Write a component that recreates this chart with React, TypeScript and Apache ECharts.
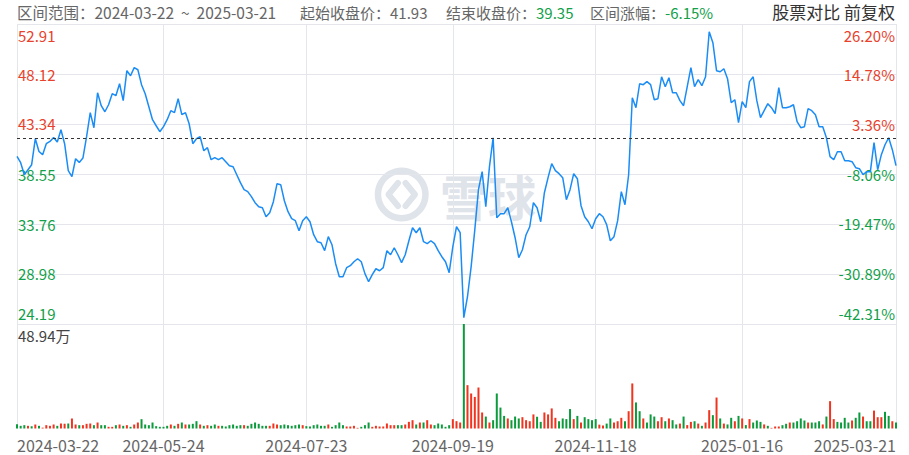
import React, { useEffect, useRef } from 'react';
import * as echarts from 'echarts';

// ---- data ----
const tickIdx = [0, 40, 79, 119, 158, 198, 240];
const dateLabels = ['2024-03-22', '2024-05-24', '2024-07-23', '2024-09-19', '2024-11-18', '2025-01-16', '2025-03-21'];
const priceTicks = [24.19, 28.98, 33.76, 38.55, 43.34, 48.12, 52.91];
const pctTicks = [-42.31, -30.89, -19.47, -8.06, 3.36, 14.78, 26.2];
const basePrice = 41.93;
const endPrice = 39.35;
const rangeChange = '-6.15%';
const volTopLabel = 48.94;

const closes = [
  40.23, 39.63, 38.48, 38.96, 39.44, 41.93, 40.71, 40.40, 41.45, 41.67,
  42.05, 41.61, 42.79, 41.45, 38.87, 38.29, 40.01, 39.66, 40.08, 42.12,
  44.42, 42.98, 46.33, 45.09, 44.51, 45.18, 46.24, 46.05, 47.19, 45.57,
  48.44, 47.96, 48.73, 48.53, 47.10, 46.24, 44.99, 43.75, 43.17, 42.60,
  43.08, 43.75, 44.61, 44.42, 45.76, 44.23, 44.42, 43.36, 41.45, 41.93,
  42.12, 40.78, 41.07, 39.92, 40.11, 39.92, 40.11, 39.73, 39.34, 39.25,
  38.48, 37.72, 37.05, 36.86, 36.38, 35.80, 35.42, 35.32, 34.46, 34.85,
  35.90, 37.62, 37.53, 35.99, 34.94, 34.27, 34.08, 33.12, 34.08, 34.46,
  33.98, 32.74, 32.07, 31.97, 31.21, 32.55, 31.78, 29.96, 28.72, 28.72,
  29.58, 29.77, 30.15, 30.44, 30.15, 29.01, 28.24, 28.91, 29.48, 29.29,
  29.58, 31.21, 30.82, 31.49, 30.82, 30.06, 30.82, 32.16, 33.41, 32.93,
  33.41, 32.07, 31.88, 32.16, 31.88, 31.21, 30.63, 30.15, 29.10, 31.59,
  33.50, 32.93, 24.79, 26.80, 29.68, 33.22, 37.05, 38.77, 35.42, 39.25,
  42.02, 34.37, 34.75, 34.75, 35.32, 33.98, 32.45, 30.54, 31.30, 32.74,
  33.50, 35.80, 35.32, 33.98, 36.76, 38.20, 39.54, 38.87, 38.58, 38.20,
  36.09, 37.05, 38.58, 38.10, 35.52, 34.46, 33.98, 33.31, 34.27, 34.75,
  34.46, 33.70, 32.16, 32.55, 34.08, 36.86, 35.61, 38.48, 45.85, 44.90,
  47.19, 47.10, 47.39, 47.10, 45.66, 45.76, 47.86, 46.91, 47.77, 46.33,
  46.33, 45.57, 45.09, 46.91, 48.73, 46.91, 47.58, 47.00, 47.86, 52.17,
  51.12, 48.44, 48.34, 48.63, 47.67, 45.38, 45.66, 43.46, 45.47, 44.90,
  47.39, 47.86, 45.57, 43.94, 44.61, 45.28, 44.90, 44.32, 46.81, 44.90,
  44.90, 44.99, 45.18, 43.56, 42.98, 43.08, 44.80, 44.61, 44.23, 43.08,
  43.08, 42.02, 40.21, 39.92, 40.68, 40.68, 39.82, 39.82, 39.73, 39.15,
  39.06, 38.48, 38.77, 38.77, 41.55, 38.96, 40.40, 41.35, 42.02, 40.88,
  39.35,
];

// volume in 万 (10k)
const volumes = [
  2.03, 1.25, 1.56, 1.25, 1.09, 1.87, 1.25, 0.4, 1.56, 1.25,
  1.87, 1.25, 2.34, 2.18, 2.34, 4.68, 1.87, 1.56, 1.56, 2.18,
  2.34, 1.56, 2.81, 1.56, 1.56, 0.78, 0.78, 1.56, 1.87, 1.25,
  1.56, 0.78, 1.87, 2.81, 4.37, 1.87, 1.56, 2.81, 1.09, 0.78,
  0.78, 1.25, 1.87, 1.25, 2.18, 2.81, 1.87, 1.87, 2.18, 3.43,
  1.87, 1.25, 1.56, 1.25, 1.87, 1.25, 1.25, 0.94, 1.56, 1.87,
  1.25, 1.56, 1.56, 1.25, 2.18, 2.81, 2.18, 1.25, 1.25, 1.25,
  2.34, 1.87, 1.56, 1.87, 1.56, 1.25, 1.56, 1.87, 1.56, 1.1,
  0.94, 1.56, 1.87, 1.25, 1.25, 1.87, 0.78, 1.56, 2.81, 1.56,
  0.94, 0.94, 1.25, 0.3, 0.78, 1.56, 2.81, 0.78, 1.25, 0.94,
  0.94, 2.34, 1.56, 1.56, 1.56, 1.56, 1.87, 3.12, 3.9, 1.87,
  2.81, 2.81, 3.9, 1.87, 1.56, 2.34, 1.87, 0.78, 1.56, 4.37,
  3.43, 2.81, 48.94, 20.3, 16.4, 14.8, 19.2, 7.5, 5.6, 2.81,
  3.9, 16.4, 9.8, 5.9, 4.7, 3.9, 5.6, 4.7, 5.3, 3.9,
  3.4, 6.6, 5.5, 3.1, 7.5, 6.6, 9.4, 5.0, 3.4, 4.7,
  4.4, 9.1, 4.4, 5.9, 2.8, 5.3, 4.4, 3.9, 4.4, 1.8,
  1.4, 2.3, 4.7, 2.8, 3.4, 5.0, 3.4, 8.1, 21.1, 12.2,
  8.1, 4.7, 2.8, 6.6, 5.6, 3.4, 5.3, 3.4, 4.7, 3.9,
  1.9, 2.3, 5.6, 1.6, 3.1, 3.4, 2.3, 1.25, 2.8, 8.6,
  6.25, 14.5, 4.7, 2.3, 1.9, 5.0, 3.4, 5.9, 4.7, 1.6,
  4.4, 2.8, 3.75, 3.1, 1.9, 1.25, 0.3, 0.94, 0.94, 1.56,
  2.2, 2.8, 2.8, 3.4, 4.7, 3.75, 2.8, 2.8, 2.8, 3.4,
  1.9, 5.6, 12.8, 4.4, 3.1, 2.8, 5.0, 2.8, 3.75, 5.0,
  7.5, 5.6, 3.4, 3.4, 8.4, 5.3, 5.3, 7.8, 5.9, 3.4,
  2.8,
];

// 1 = red (up) bar, 0 = green (down) bar
const volUp = [
  0, 0, 0, 1, 0, 1, 0, 1, 1, 1,
  1, 0, 1, 1, 0, 1, 1, 0, 1, 1,
  1, 0, 1, 0, 0, 1, 1, 0, 1, 0,
  1, 0, 1, 1, 0, 0, 0, 0, 0, 0,
  0, 0, 1, 0, 1, 0, 1, 0, 0, 0,
  1, 0, 1, 0, 0, 1, 0, 0, 0, 0,
  0, 0, 1, 0, 0, 0, 0, 0, 0, 1,
  1, 1, 0, 0, 0, 0, 0, 0, 1, 0,
  0, 0, 0, 0, 0, 1, 0, 0, 0, 0,
  1, 1, 1, 1, 0, 0, 0, 1, 1, 1,
  1, 1, 1, 1, 0, 0, 1, 1, 1, 0,
  1, 0, 1, 1, 0, 0, 0, 0, 0, 1,
  1, 1, 0, 1, 1, 1, 1, 1, 0, 1,
  0, 0, 0, 0, 1, 0, 0, 0, 1, 1,
  1, 1, 0, 0, 1, 1, 1, 1, 0, 0,
  0, 0, 1, 0, 1, 0, 0, 0, 0, 1,
  1, 0, 0, 1, 1, 1, 0, 1, 1, 0,
  0, 1, 0, 0, 0, 1, 1, 0, 1, 0,
  0, 1, 0, 1, 1, 0, 1, 0, 1, 1,
  0, 1, 0, 1, 0, 0, 1, 0, 1, 0,
  1, 0, 0, 0, 1, 0, 1, 1, 1, 0,
  0, 1, 0, 0, 0, 0, 1, 0, 0, 0,
  1, 0, 1, 1, 0, 0, 0, 0, 1, 0,
  0, 1, 0, 0, 1, 1, 1, 0, 0, 1,
  0,
];

const RED = '#e8412c';
const GREEN = '#12a04a';
const VRED = '#f0341f';
const VGREEN = '#0b9a3c';
const LINE = '#1a8cf5';
const GRID = '#e5e6eb';
const WM = '#dfe3ea';
const FONT = '"Noto Sans CJK SC", "Noto Sans", sans-serif';

export default function App() {
  const ref = useRef<HTMLDivElement>(null);

  useEffect(() => {
    if (!ref.current) return;
    const chart = echarts.init(ref.current, undefined, { renderer: 'svg' });
    const cats = closes.map((_, i) => String(i));
    const isTick = (i: number) => tickIdx.indexOf(i) >= 0;
    const pMin = priceTicks[0];
    const pMax = priceTicks[priceTicks.length - 1];
    const qMin = pctTicks[0];
    const qMax = pctTicks[pctTicks.length - 1];

    const edgeRich = {
      t: { padding: [4, 0, 0, 0], color: RED, fontSize: 15, fontFamily: FONT },
      b: { padding: [0, 0, 3, 0], color: GREEN, fontSize: 15, fontFamily: FONT },
    };

    const option: any = {
      animation: false,
      textStyle: { fontFamily: FONT },
      grid: [
        { left: 17, right: 13, top: 24, height: 300 },
        { left: 17, right: 13, top: 324, height: 104.5 },
      ],
      xAxis: [
        {
          type: 'category', gridIndex: 0, data: cats, boundaryGap: false,
          axisLine: { show: false }, axisTick: { show: false }, axisLabel: { show: false },
          splitLine: { show: true, interval: (i: number) => isTick(i), lineStyle: { color: GRID, width: 1 } },
        },
        {
          type: 'category', gridIndex: 1, data: cats, boundaryGap: false,
          axisLine: { show: false }, axisTick: { show: false },
          axisLabel: {
            show: true,
            interval: (i: number) => isTick(i),
            formatter: (v: string) => {
              const k = tickIdx.indexOf(Number(v));
              return k >= 0 ? dateLabels[k] : '';
            },
            alignMinLabel: 'left',
            alignMaxLabel: 'right',
            color: '#666',
            fontSize: 16,
            fontFamily: FONT,
            margin: 8,
          },
          splitLine: { show: true, interval: (i: number) => isTick(i), lineStyle: { color: GRID, width: 1 } },
        },
      ],
      yAxis: [
        {
          type: 'value', gridIndex: 0, position: 'left', min: pMin, max: pMax,
          axisLine: { show: false },
          axisTick: { show: false, customValues: priceTicks },
          axisLabel: {
            inside: true, customValues: priceTicks, margin: 1,
            formatter: (v: number) => {
              const n = Number(v);
              const t = n.toFixed(2);
              if (n === pMax) return '{t|' + t + '}';
              if (n === pMin) return '{b|' + t + '}';
              return t;
            },
            rich: edgeRich,
            color: (v: any) => (Number(v) > basePrice ? RED : GREEN),
            fontSize: 15, fontFamily: FONT,
            verticalAlignMinLabel: 'bottom', verticalAlignMaxLabel: 'top',
          },
          splitLine: { show: true, lineStyle: { color: GRID, width: 1 } },
        },
        {
          type: 'value', gridIndex: 0, position: 'right', min: qMin, max: qMax,
          axisLine: { show: false },
          axisTick: { show: false, customValues: pctTicks },
          axisLabel: {
            inside: true, customValues: pctTicks, margin: 1,
            formatter: (v: number) => {
              const n = Number(v);
              const t = n.toFixed(2) + '%';
              if (n === qMax) return '{t|' + t + '}';
              if (n === qMin) return '{b|' + t + '}';
              return t;
            },
            rich: edgeRich,
            color: (v: any) => (Number(v) > 0 ? RED : GREEN),
            fontSize: 15, fontFamily: FONT,
            verticalAlignMinLabel: 'bottom', verticalAlignMaxLabel: 'top',
          },
          splitLine: { show: false },
        },
        {
          type: 'value', gridIndex: 1, min: 0, max: volTopLabel,
          axisLine: { show: false },
          axisTick: { show: false, customValues: [volTopLabel] },
          axisLabel: {
            inside: true, customValues: [volTopLabel], margin: 1,
            formatter: (v: number) => '{t|' + Number(v).toFixed(2) + '万}',
            rich: { t: { padding: [4, 0, 0, 0], color: '#444', fontSize: 15, fontFamily: FONT } },
            color: '#444', fontSize: 15, fontFamily: FONT,
            verticalAlignMinLabel: 'top', verticalAlignMaxLabel: 'top',
          },
          splitLine: { show: false },
        },
      ],
      graphic: [
        { type: 'ring', shape: { cx: 401.7, cy: 194.5, r: 27, r0: 20.5 }, style: { fill: WM }, z: 0, silent: true },
        { type: 'polyline', shape: { points: [[398, 183], [388.5, 194.5], [398, 206]] }, style: { stroke: WM, lineWidth: 6, fill: null, lineCap: 'round', lineJoin: 'round' }, z: 0, silent: true },
        { type: 'polyline', shape: { points: [[405.5, 183], [415, 194.5], [405.5, 206]] }, style: { stroke: WM, lineWidth: 6, fill: null, lineCap: 'round', lineJoin: 'round' }, z: 0, silent: true },
        { type: 'text', x: 440, y: 195, style: { text: '雪球', fill: WM, font: `bold 48px ${FONT}`, verticalAlign: 'middle' }, z: 0, silent: true },
        {
          type: 'text', x: 17, y: 12,
          style: { text: '区间范围：2024-03-22  ~  2025-03-21', fill: '#666', font: `15.5px ${FONT}`, verticalAlign: 'middle' },
        },
        {
          type: 'text', x: 300, y: 12,
          style: { text: '起始收盘价：' + basePrice.toFixed(2), fill: '#666', font: `15px ${FONT}`, verticalAlign: 'middle' },
        },
        {
          type: 'text', x: 446, y: 12,
          style: {
            text: '结束收盘价：{g|' + endPrice.toFixed(2) + '}', fill: '#666', font: `15px ${FONT}`, verticalAlign: 'middle',
            rich: { g: { fill: GREEN, font: `15px ${FONT}` } },
          },
        },
        {
          type: 'text', x: 590, y: 12,
          style: {
            text: '区间涨幅：{g|' + rangeChange + '}', fill: '#666', font: `15px ${FONT}`, verticalAlign: 'middle',
            rich: { g: { fill: GREEN, font: `15px ${FONT}` } },
          },
        },
        {
          type: 'text', x: 895, y: 11,
          style: { text: '股票对比 前复权', fill: '#333', font: `17px ${FONT}`, align: 'right', verticalAlign: 'middle' },
        },
      ],
      series: [
        {
          type: 'line', xAxisIndex: 0, yAxisIndex: 0, data: closes,
          symbol: 'none', showSymbol: false,
          lineStyle: { color: LINE, width: 1.5 },
          z: 3,
          markLine: {
            symbol: 'none', silent: true, label: { show: false },
            lineStyle: { color: '#333', type: [3, 3], width: 1 },
            data: [{ yAxis: basePrice }],
          },
        },
        {
          type: 'bar', xAxisIndex: 1, yAxisIndex: 2, barWidth: 2,
          data: volumes.map((v, i) => ({ value: v, itemStyle: { color: volUp[i] ? VRED : VGREEN } })),
        },
      ],
    };
    chart.setOption(option);
    return () => chart.dispose();
  }, []);

  return <div ref={ref} style={{ position: 'fixed', left: 0, top: 0, width: 909, height: 455, background: '#fff' }} />;
}
